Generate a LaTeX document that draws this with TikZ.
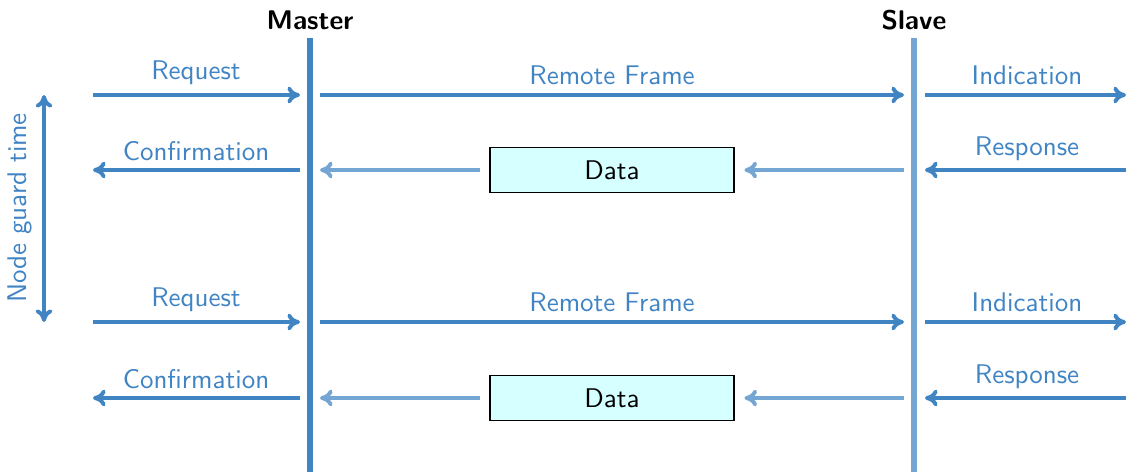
\documentclass[tikz,border=0pt]{standalone}
\usepackage{tikz}
\usetikzlibrary{arrows.meta, positioning, calc}
\definecolor{msgblue}{RGB}{64,132,196}
\definecolor{lightblue}{RGB}{116,166,212}
\definecolor{datacyan}{RGB}{214,255,255}

\begin{document}
\begin{tikzpicture}[x=0.0125cm, y=-0.0125cm, font=\sffamily\fontsize{9.6}{11}\selectfont,
    msg/.style={draw=msgblue, line width=1.4pt, -{To[length=4.5pt, width=6pt]}},
    reply/.style={draw=lightblue, line width=1.4pt, -{To[length=4.5pt, width=6pt]}},
    lifeline/.style={line width=2.2pt},
    msglabel/.style={text=msgblue, anchor=base},
    databox/.style={draw=black, fill=datacyan, minimum width=3.05cm, minimum height=0.5625cm, inner sep=0pt}]
    \useasboundingbox (0,0) rectangle (1126,472);

    \coordinate (mtop) at (310,38);
    \coordinate (mbot) at (310,472);
    \coordinate (stop) at (914,38);
    \coordinate (sbot) at (914,472);

    \draw[lifeline, msgblue] (mtop) -- (mbot);
    \draw[lifeline, lightblue] (stop) -- (sbot);

    \node[font=\sffamily\bfseries\fontsize{9.6}{11}\selectfont] (master) at (310,20) {Master};
    \node[font=\sffamily\bfseries\fontsize{9.6}{11}\selectfont] (slave) at (914,20) {Slave};

    \foreach \n/\y/\z in {1/95/170, 2/322/398} {
        % request / indication
        \coordinate (reqA\n) at (93,\y);
        \coordinate (reqB\n) at (300,\y);
        \coordinate (remA\n) at (320,\y);
        \coordinate (remB\n) at (904,\y);
        \coordinate (indA\n) at (925,\y);
        \coordinate (indB\n) at (1126,\y);
        \draw[msg] (reqA\n) -- (reqB\n);
        \draw[msg] (remA\n) -- (remB\n);
        \draw[msg] (indA\n) -- (indB\n);
        \node[msglabel] (request\n) at (196,\y-16) {Request};
        \node[msglabel] (remote\n) at (612,\y-11) {Remote Frame};
        \node[msglabel] (indication\n) at (1027,\y-11) {Indication};

        % response / confirmation
        \coordinate (conA\n) at (300,\z);
        \coordinate (conB\n) at (93,\z);
        \coordinate (datA\n) at (320,\z);
        \coordinate (datB\n) at (904,\z);
        \coordinate (resA\n) at (1126,\z);
        \coordinate (resB\n) at (925,\z);
        \node[databox] (data\n) at (612,\z) {Data};
        \draw[msg] (conA\n) -- (conB\n);
        \draw[reply, shorten <=3.5pt] (data\n.west) -- (datA\n);
        \draw[reply, shorten >=3.5pt] (datB\n) -- (data\n.east);
        \draw[msg] (resA\n) -- (resB\n);
        \node[msglabel] (confirmation\n) at (196,\z-10) {Confirmation};
        \node[msglabel] (response\n) at (1027,\z-15) {Response};
    }

    \coordinate (gtop) at (44,95);
    \coordinate (gbot) at (44,322);
    \draw[msg, {To[length=4.5pt, width=6pt]}-{To[length=4.5pt, width=6pt]}] (gtop) -- (gbot);
    \node[rotate=90, text=msgblue] (guard) at (20,208) {Node guard time};
\end{tikzpicture}
\end{document}
